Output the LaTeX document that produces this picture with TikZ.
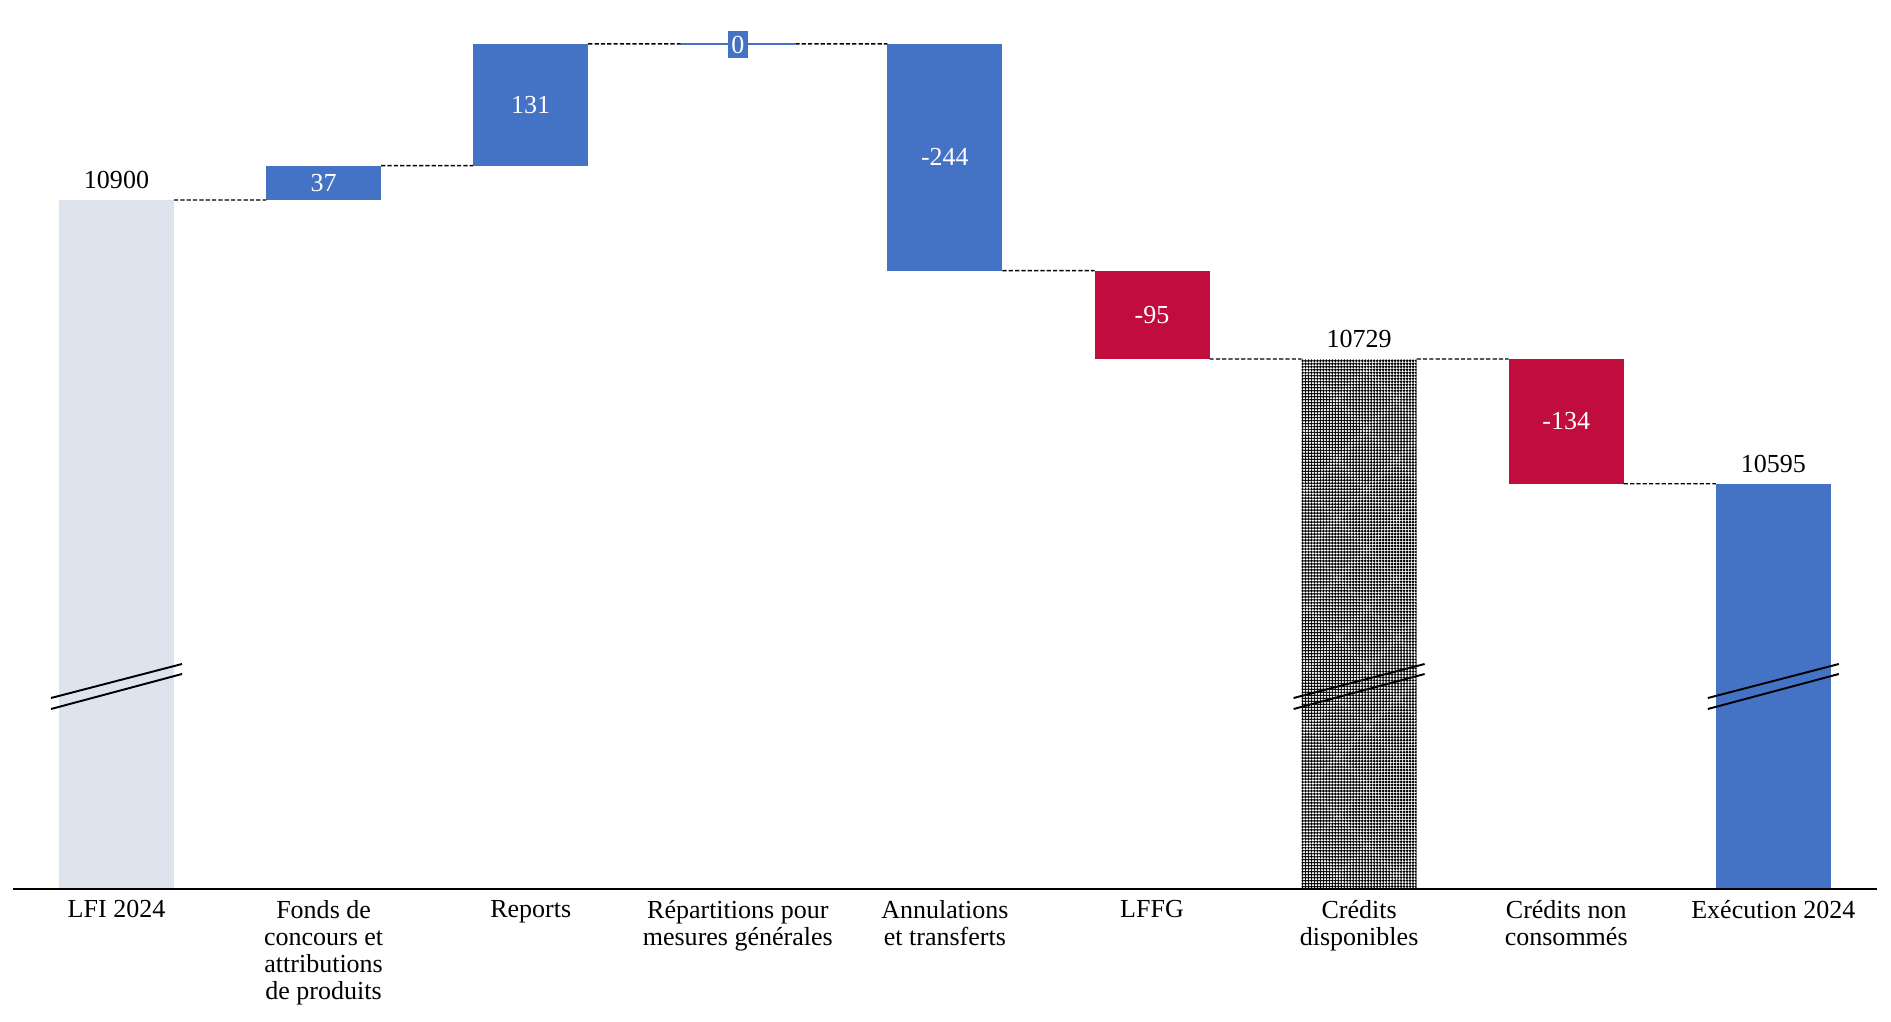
\documentclass[tikz,border=0pt]{standalone}
\usepackage{fontspec}
\setmainfont{Liberation Serif}
\usetikzlibrary{positioning,patterns.meta}

\definecolor{barblue}{HTML}{4472C4}
\definecolor{barred}{HTML}{C00D3E}
\definecolor{barlight}{HTML}{DEE4EE}

\begin{document}
\begin{tikzpicture}[
    font=\fontsize{7.4}{7.7}\selectfont,
    bar/.style={rectangle, inner sep=0pt, outer sep=0pt, minimum width=1.15cm, text=white},
    upbar/.style={bar, fill=barblue},
    downbar/.style={bar, fill=barred},
    total/.style={inner sep=0pt},
    link/.style={line width=0.4pt, dash pattern=on 1.2pt off 0.6pt},
    catlabel/.style={anchor=north, align=center, inner sep=0pt},
    breakline/.style={line width=0.55pt},
    axis/.style={line width=0.6pt}
]
    \useasboundingbox (0,0) rectangle (18.91,10.21);

    % Bars (0.0093 cm per unit, bottom at the axis)
    \node[bar, fill=barlight, minimum height=6.89cm] (lfi) at (1.165,4.765) {};
    \node[upbar, minimum height=0.344cm] (fonds) at (3.236,8.382) {37};
    \node[upbar, minimum height=1.218cm] (reports) at (5.307,9.163) {131};
    \node[bar, minimum height=0pt] (repart) at (7.378,9.772) {};
    \node[upbar, minimum height=2.269cm] (annul) at (9.449,8.6375) {-244};
    \node[downbar, minimum height=0.883cm] (lffg) at (11.520,7.0615) {-95};
    \node[bar, pattern={Dots[distance=0.85pt, radius=0.42pt]}, pattern color=black,
          minimum height=5.30cm] (dispo) at (13.591,3.97) {};
    \node[downbar, minimum height=1.247cm] (noncons) at (15.662,5.9965) {-134};
    \node[upbar, minimum height=4.053cm] (exec) at (17.733,3.3465) {};

    % Zero step
    \draw[barblue, line width=0.4pt] (repart.west) -- (repart.east);
    \node[upbar, minimum width=0.2cm, minimum height=0.27cm] (repartval) at (7.378,9.765) {0};

    % Totals
    \node[total, above=0.105cm of lfi] (lfival) {10900};
    \node[total, above=0.105cm of dispo] (dispoval) {10729};
    \node[total, above=0.105cm of exec] (execval) {10595};

    % Links
    \draw[link] (lfi.north east) -- (fonds.south west);
    \draw[link] (fonds.north east) -- (reports.south west);
    \draw[link] (reports.north east) -- (repart.west);
    \draw[link] (repart.east) -- (annul.north west);
    \draw[link] (annul.south east) -- (lffg.north west);
    \draw[link] (lffg.south east) -- (dispo.north west);
    \draw[link] (dispo.north east) -- (noncons.north west);
    \draw[link] (noncons.south east) -- (exec.north west);

    % Breaks
    \foreach \x in {1.165,13.591,17.733} {
        \draw[breakline] (\x-0.655,3.23) -- (\x+0.655,3.57);
        \draw[breakline] (\x-0.655,3.12) -- (\x+0.655,3.47);
    }

    % Axis
    \coordinate (axisL) at (0.13,1.32);
    \coordinate (axisR) at (18.77,1.32);
    \draw[axis] (axisL) -- (axisR);

    % Categories
    \node[catlabel] (lfilab) at (1.165,1.215) {LFI 2024};
    \node[catlabel] (fondslab) at (3.236,1.215) {Fonds de\\concours et\\attributions\\de produits};
    \node[catlabel] (reportslab) at (5.307,1.215) {Reports};
    \node[catlabel] (repartlab) at (7.378,1.215) {Répartitions pour\\mesures générales};
    \node[catlabel] (annullab) at (9.449,1.215) {Annulations\\et transferts};
    \node[catlabel] (lffglab) at (11.520,1.215) {LFFG};
    \node[catlabel] (dispolab) at (13.591,1.215) {Crédits\\disponibles};
    \node[catlabel] (nonconslab) at (15.662,1.215) {Crédits non\\consommés};
    \node[catlabel] (execlab) at (17.733,1.215) {Exécution 2024};

\end{tikzpicture}
\end{document}
